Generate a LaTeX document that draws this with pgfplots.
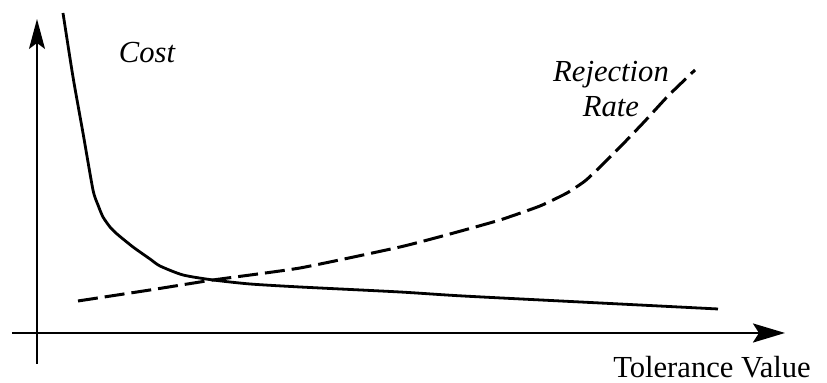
\documentclass[border=0pt]{standalone}
\usepackage{fontspec}
\setmainfont{Liberation Serif}
\usepackage{pgfplots}
\pgfplotsset{compat=1.18}
\usetikzlibrary{arrows.meta}
\pgfplotstableread{
x y
26 320
36 256
46 200
56 143
61 128
66 116
73 106
80 99
96 86
113 74
123 67
146 58
176 53
213 49
263 46
363 41
426 37
563 30
681 24
}\costdata
\pgfplotstableread{
x y
41 32
113 43
176 53
263 65
363 86
413 99
463 113
503 127
530 140
548 152
563 166
586 189
608 212
631 237
658 263
}\rejdata
\begin{document}
\begin{tikzpicture}
\begin{axis}[
  scale only axis,
  width=386.5pt, height=172.5pt,
  xmin=-25, xmax=748, ymin=-31, ymax=314,
  axis lines=middle,
  xtick=\empty, ytick=\empty,
  clip=false,
  x axis line style={line width=1.3pt, -{Stealth[length=16pt,width=9.5pt,inset=3pt]}},
  y axis line style={line width=0.9pt, -{Stealth[length=15pt,width=8pt,inset=3pt]}},
  every axis plot/.append style={black},
]
\addplot[line width=1.4pt, smooth, tension=0.4] table[x=x,y=y] {\costdata};
\addplot[line width=1.5pt, smooth, tension=0.3, dash pattern=on 10pt off 3.5pt] table[x=x,y=y] {\rejdata};
\node[anchor=base, font=\fontsize{15.3}{17.5}\selectfont\itshape] at (axis cs:110,270) {Cost};
\node[anchor=base, font=\fontsize{15.3}{17.5}\selectfont\itshape] at (axis cs:574,251) {Rejection};
\node[anchor=base, font=\fontsize{15.3}{17.5}\selectfont\itshape] at (axis cs:574,216) {Rate};
\node[anchor=base, font=\fontsize{15.3}{17.5}\selectfont] at (axis cs:675,-45) {Tolerance Value};
\coordinate (bl) at (axis cs:-37,-50);
\coordinate (tr) at (axis cs:790,333);
\end{axis}
\pgfresetboundingbox
\path[use as bounding box] (bl) rectangle (tr);
\end{tikzpicture}
\end{document}
